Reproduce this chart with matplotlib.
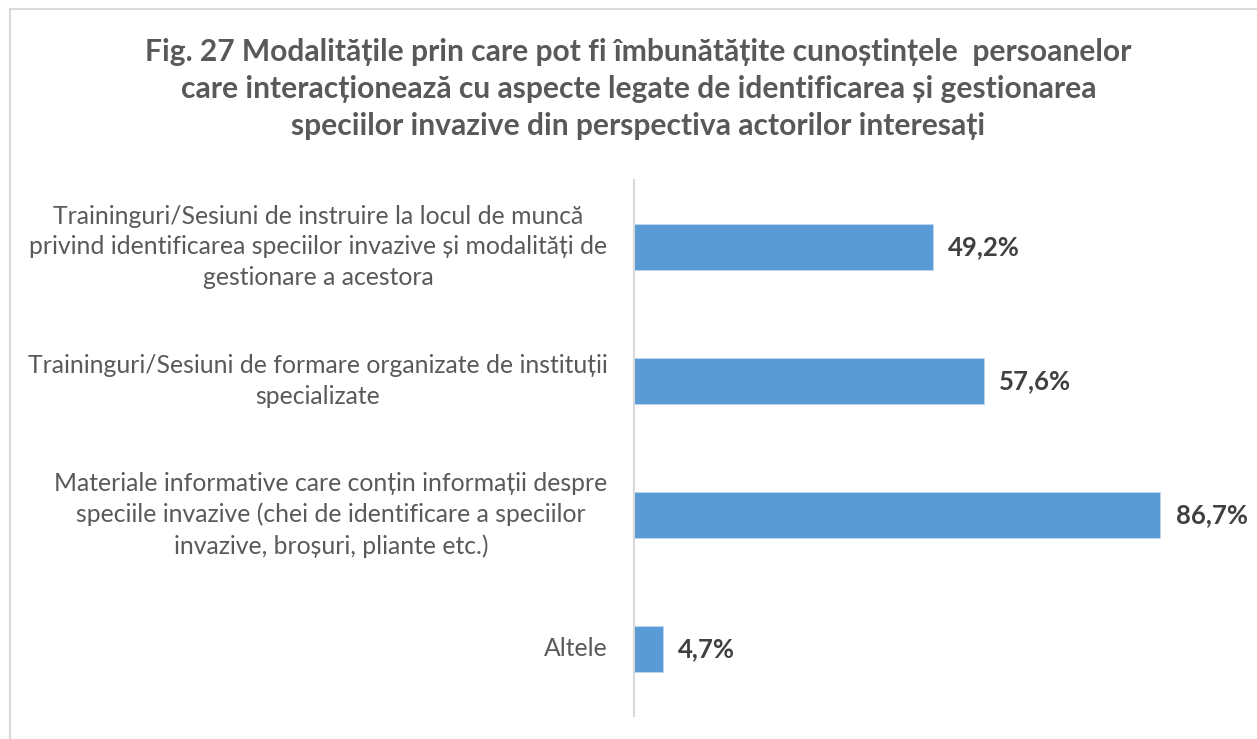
import matplotlib
matplotlib.use('Agg')
import matplotlib.pyplot as plt
from matplotlib.patches import Rectangle

plt.rcParams['font.family'] = ['Lato', 'DejaVu Sans']

# date
categorii = [
    'Traininguri/Sesiuni de instruire la locul de muncă\n'
    'privind identificarea speciilor invazive și modalități de\n'
    'gestionare a acestora',
    'Traininguri/Sesiuni de formare organizate de instituții\n'
    'specializate',
    'Materiale informative care conțin informații despre\n'
    'speciile invazive (chei de identificare a speciilor\n'
    'invazive, broșuri, pliante etc.)',
    'Altele',
]
valori = [49.2, 57.6, 86.7, 4.7]
etichete = ['49,2%', '57,6%', '86,7%', '4,7%']

titlu = ('Fig. 27 Modalitățile prin care pot fi îmbunătățite cunoștințele  persoanelor\n'
         'care interacționează cu aspecte legate de identificarea și gestionarea\n'
         'speciilor invazive din perspectiva actorilor interesați')

fig = plt.figure(figsize=(12.57, 7.39), dpi=100)

# chenar gri
fig.patches.append(Rectangle((10 / 1257, -0.1), 1.2, 1.1 - 9 / 739,
                             transform=fig.transFigure, fill=False,
                             edgecolor='#d9d9d9', linewidth=1.5))

fig.text(0.508, 1 - 89 / 739, titlu, ha='center', va='center',
         fontsize=21.6, fontweight='bold', color='#595959', linespacing=1.37)

ax = fig.add_axes([634 / 1257, 1 - 716 / 739, 607 / 1257, 536 / 739])
poz = list(range(len(categorii)))
ax.barh(poz, valori, height=0.35, color='#5b9bd5', edgecolor='#bdd7ee', linewidth=0.6)
ax.set_xlim(0, 100)
ax.set_ylim(len(categorii) - 0.5, -0.5)

for i, (v, e) in enumerate(zip(valori, etichete)):
    ax.annotate(e, (v, i), xytext=(11, 0), textcoords='offset points',
                ha='left', va='center', fontsize=18.5, fontweight='bold', color='#404040')
    ax.annotate(categorii[i], (0, i), xytext=(-19, 0), textcoords='offset points',
                ha='right', va='center', multialignment='center',
                fontsize=17.8, color='#595959', linespacing=1.4)

for s in ['top', 'right', 'bottom']:
    ax.spines[s].set_visible(False)
ax.spines['left'].set_color('#d9d9d9')
ax.spines['left'].set_linewidth(1.5)
ax.set_xticks([])
ax.set_yticks([])

fig.savefig('out.png', dpi=100)
